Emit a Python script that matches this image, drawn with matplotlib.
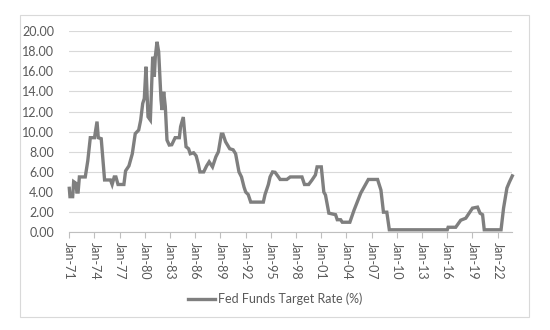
import matplotlib
matplotlib.use("Agg")
import matplotlib.pyplot as plt
from matplotlib.patches import Rectangle

# fed funds target rate (decimal year, %)
years = [1971.0, 1971.08, 1971.4, 1971.52, 1971.8, 1971.9, 1972.05, 1972.2, 1972.9,
         1973.2, 1973.5, 1974.0, 1974.3, 1974.45, 1974.8, 1975.2, 1975.9, 1976.1,
         1976.35, 1976.55, 1976.8, 1977.5, 1977.7, 1978.1, 1978.5, 1978.85, 1979.26,
         1979.5, 1979.74, 1979.93, 1980.13, 1980.37, 1980.65, 1980.93, 1981.12, 1981.24,
         1981.44, 1981.64, 1981.92, 1982.04, 1982.24, 1982.43, 1982.63, 1982.9, 1983.2,
         1983.6, 1984.1, 1984.25, 1984.57, 1984.7, 1984.9, 1985.2, 1985.4, 1985.8,
         1986.1, 1986.35, 1986.55, 1987.0, 1987.35, 1987.65, 1988.05, 1988.45, 1988.75,
         1989.1, 1989.3, 1989.6, 1990.1, 1990.5, 1990.8, 1991.2, 1991.5, 1991.8,
         1992.0, 1992.3, 1992.6, 1994.1, 1994.3, 1994.5, 1994.7, 1994.9, 1995.2,
         1995.5, 1995.9, 1996.1, 1996.9, 1997.3, 1998.7, 1999.0, 1999.5, 1999.9,
         2000.3, 2000.5, 2001.0, 2001.3, 2001.5, 2001.9, 2002.7, 2002.9, 2003.3,
         2003.5, 2004.4, 2004.9, 2005.7, 2006.6, 2007.7, 2008.1, 2008.4, 2008.8,
         2009.1, 2016.0, 2016.1, 2017.0, 2017.6, 2018.2, 2019.0, 2019.6, 2019.9,
         2020.2, 2020.4, 2022.4, 2022.7, 2023.1, 2023.4, 2023.74]
rates = [4.37, 3.54, 3.54, 5.03, 4.86, 4.0, 4.0, 5.5, 5.5,
         7.1, 9.4, 9.4, 11.0, 9.4, 9.3, 5.2, 5.2, 4.75,
         5.5, 5.5, 4.75, 4.75, 6.1, 6.6, 7.8, 9.8, 10.16,
         11.15, 12.8, 13.3, 16.45, 11.48, 11.15, 17.44, 15.45, 17.44,
         18.93, 17.94, 13.14, 12.15, 13.96, 12.5, 9.16, 8.67, 8.7,
         9.4, 9.4, 10.5, 11.45, 10.2, 8.5, 8.3, 7.8, 7.9,
         7.6, 6.8, 6.0, 6.0, 6.6, 7.0, 6.5, 7.5, 8.0,
         9.75, 9.75, 9.0, 8.3, 8.2, 7.8, 6.0, 5.5, 4.5,
         4.0, 3.75, 3.0, 3.0, 3.75, 4.25, 4.75, 5.5, 6.0,
         5.96, 5.5, 5.25, 5.25, 5.5, 5.5, 4.75, 4.75, 5.2,
         5.7, 6.5, 6.5, 4.0, 3.7, 1.9, 1.75, 1.25, 1.25,
         1.0, 1.0, 2.2, 3.9, 5.25, 5.25, 4.2, 2.0, 2.0,
         0.25, 0.25, 0.5, 0.5, 1.2, 1.4, 2.4, 2.5, 1.9,
         1.75, 0.25, 0.25, 2.4, 4.4, 5.0, 5.6]

tick_years = list(range(1971, 2023, 3))
tick_labels = ["Jan-%02d" % (y % 100) for y in tick_years]
y_ticks = [0, 2, 4, 6, 8, 10, 12, 14, 16, 18, 20]

plt.rcParams['font.family'] = ['Lato', 'DejaVu Sans']
txt = '#595959'

fig = plt.figure(figsize=(5.5, 3.3), dpi=100)
fig.patches.append(Rectangle((20/550, 1-317/330), 509/550, 302/330, transform=fig.transFigure,
                             fill=False, edgecolor='#d9d9d9', lw=0.8))
ax = fig.add_axes([69.3/550, 1-232.3/330, 443/550, 201.3/330])

ax.plot(years, rates, color='#7f7f7f', lw=2.4, solid_joinstyle='miter', clip_on=False,
        label='Fed Funds Target Rate (%)')

ax.set_xlim(1971, 2023.74)
ax.set_ylim(0, 20)
ax.set_yticks(y_ticks)
ax.set_yticklabels(["%.2f" % v for v in y_ticks], color=txt, fontsize=9)
ax.set_xticks(tick_years)
ax.set_xticklabels(tick_labels, rotation=-90, color=txt, fontsize=9, va='top', ha='center')
ax.tick_params(axis='y', length=0, pad=11)
ax.tick_params(axis='x', length=4, color='#bfbfbf', width=0.8, pad=3)

ax.grid(axis='y', color='#d9d9d9', lw=0.8)
ax.set_axisbelow(True)
for s in ['left', 'right', 'top']:
    ax.spines[s].set_visible(False)
ax.spines['bottom'].set_color('#bfbfbf')
ax.spines['bottom'].set_linewidth(0.8)

leg = fig.legend(loc='center', bbox_to_anchor=(275/550, 1-299/330), frameon=False,
                 fontsize=9, handlelength=2.2, handletextpad=0.2)
for t in leg.get_texts():
    t.set_color(txt)

fig.savefig('out.png', dpi=100)
